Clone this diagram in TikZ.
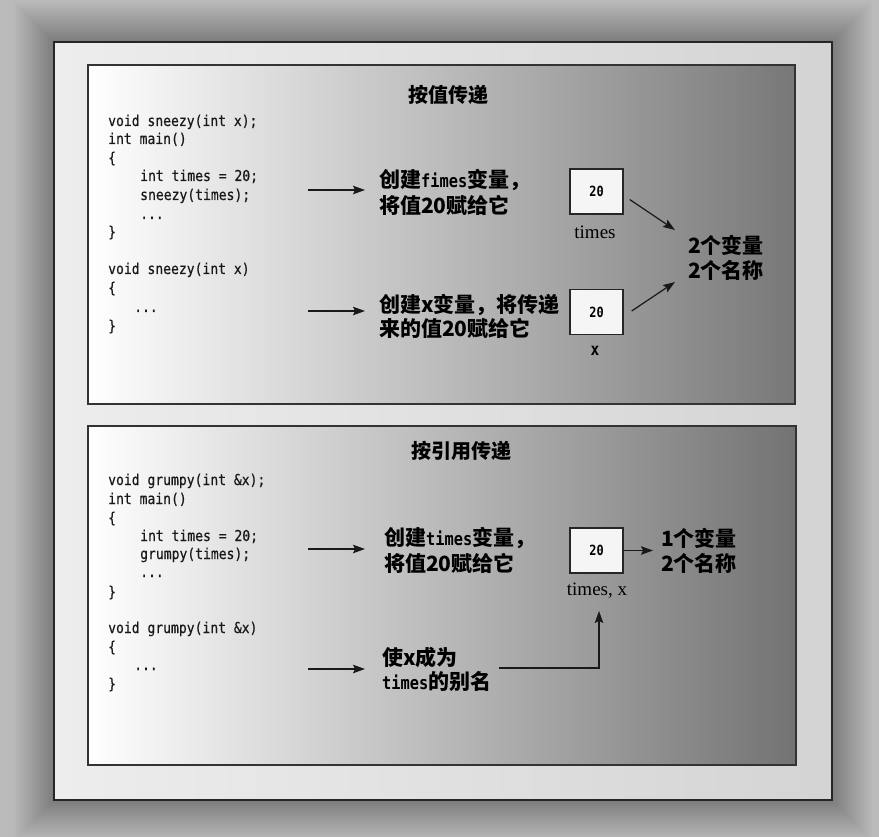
\documentclass[tikz,border=0pt]{standalone}
\usepackage{fontspec}
\setmainfont{Liberation Serif}
\newfontfamily\cjk{Noto Sans CJK SC}
\newfontfamily\codefont{DejaVu Sans Mono}[FakeStretch=0.87,FakeBold=0.5]
\newfontfamily\codefontb{DejaVu Sans Mono}[FakeStretch=0.85]
\usetikzlibrary{arrows.meta,calc}
\newcommand{\ttb}[1]{{\codefontb\bfseries\fontsize{18}{20}\selectfont #1}}
\begin{document}
\begin{tikzpicture}[x=1pt,y=-1pt,
  code/.style={anchor=base west,inner sep=0pt,font=\codefont\fontsize{15}{17}\selectfont,text=black!90},
  lbl/.style={anchor=west,inner sep=0pt,font=\cjk\bfseries\fontsize{21}{24}\selectfont},
  ttl/.style={inner sep=0pt,font=\cjk\bfseries\fontsize{20}{24}\selectfont},
  valbox/.style={draw=black!85,line width=1.4pt,fill=black!4,minimum width=53pt,minimum height=45pt,inner sep=0pt,font=\codefontb\bfseries\fontsize{14}{16}\selectfont},
  vname/.style={inner sep=0pt,font=\fontsize{19}{22}\selectfont},
  arr/.style={-{Stealth[length=12pt,width=8.5pt,inset=2pt]},line width=1.2pt,draw=black!90},
  panel/.style={draw=black!80,line width=1.5pt}
]
\useasboundingbox (0,0) rectangle (879,837);
% background with soft shadow around the frame
\fill[black!27] (0,0) rectangle (879,837);
\foreach \d in {40,38,...,2}{
  \fill[black,opacity=0.016] ({54-\d},{42-\d}) rectangle ({832+\d},{800+\d});
}
% outer frame
\shade[left color=black!7,right color=black!17] (54,42) rectangle (832,800);
\draw[draw=black!85,line width=1.3pt] (54,42) rectangle (832,800);
% panels
\shade[left color=white,right color=black!53] (88,65) rectangle (795,404);
\draw[panel] (88,65) rectangle (795,404);
\shade[left color=white,right color=black!55] (88,426) rectangle (796,765);
\draw[panel] (88,426) rectangle (796,765);

% ---------- top panel ----------
\node[ttl] (ttl1) at (448,95) {按值传递};
\node[code] (c1) at (108,126) {void sneezy(int x);};
\node[code] (c2) at (108,144) {int main()};
\node[code] (c3) at (108,163) {\{};
\node[code] (c4) at (140,181) {int times = 20;};
\node[code] (c5) at (140,200) {sneezy(times);};
\node[code] (c6) at (140,219) {...};
\node[code] (c7) at (108,237) {\}};
\node[code] (c8) at (108,274) {void sneezy(int x)};
\node[code] (c9) at (108,293) {\{};
\node[code] (c10) at (134,312) {...};
\node[code] (c11) at (108,331) {\}};

\node[lbl] (t1a) at (379,180) {创建\ttb{fimes}变量，};
\node[lbl] (t1b) at (379,205) {将值20赋给它};
\node[lbl] (t2a) at (379,305) {创建x变量，将传递};
\node[lbl] (t2b) at (379,328) {来的值20赋给它};

\node[valbox] (b1) at (596.5,191.5) {20};
\node[valbox] (b2) at (596.5,312) {20};
\node[vname] (n1) at (595,232) {times};
\node[vname,font=\codefontb\bfseries\fontsize{17}{19}\selectfont] (n2) at (595,351) {x};

\node[lbl] (s1a) at (688,245) {2个变量};
\node[lbl] (s1b) at (688,270) {2个名称};

\coordinate (a1s) at (308,190); \coordinate (a1e) at (365,190);
\coordinate (a2s) at (308,311); \coordinate (a2e) at (365,311);
\draw[arr] (a1s) -- (a1e);
\draw[arr] (a2s) -- (a2e);
\coordinate (d1) at (675,230);
\coordinate (d2) at (675,282);
\draw[arr] ($(b1.east)+(6,8)$) -- (d1);
\draw[arr] ($(b2.east)+(8,-1)$) -- (d2);

% ---------- bottom panel ----------
\node[ttl] (ttl2) at (461,451) {按引用传递};
\node[code] (e1) at (108,485) {void grumpy(int \&x);};
\node[code] (e2) at (108,504) {int main()};
\node[code] (e3) at (108,523) {\{};
\node[code] (e4) at (140,541) {int times = 20;};
\node[code] (e5) at (140,559) {grumpy(times);};
\node[code] (e6) at (140,577) {...};
\node[code] (e7) at (108,597) {\}};
\node[code] (e8) at (108,633) {void grumpy(int \&x)};
\node[code] (e9) at (108,652) {\{};
\node[code] (e10) at (134,670) {...};
\node[code] (e11) at (108,689) {\}};

\node[lbl] (t3a) at (384,538) {创建\ttb{times}变量，};
\node[lbl] (t3b) at (384,563) {将值20赋给它};
\node[lbl] (t4a) at (382,657) {使x成为};
\node[lbl] (t4b) at (382,681) {\ttb{times}的别名};

\node[valbox] (b3) at (596.5,550.5) {20};
\node[vname] (n3) at (597,591) {times, x};

\node[lbl] (s2a) at (661,538) {1个变量};
\node[lbl] (s2b) at (661,563) {2个名称};

\coordinate (a3s) at (308,549); \coordinate (a3e) at (365,549);
\coordinate (a4s) at (308,669); \coordinate (a4e) at (365,669);
\draw[arr] (a3s) -- (a3e);
\draw[arr] (a4s) -- (a4e);
\draw[arr,shorten >=8pt] (b3.east) -- (s2a.west |- b3.east);
\coordinate (q1) at (499,668);
\coordinate (q2) at (599,611);
\draw[arr] (q1) -| (q2);
\end{tikzpicture}
\end{document}
